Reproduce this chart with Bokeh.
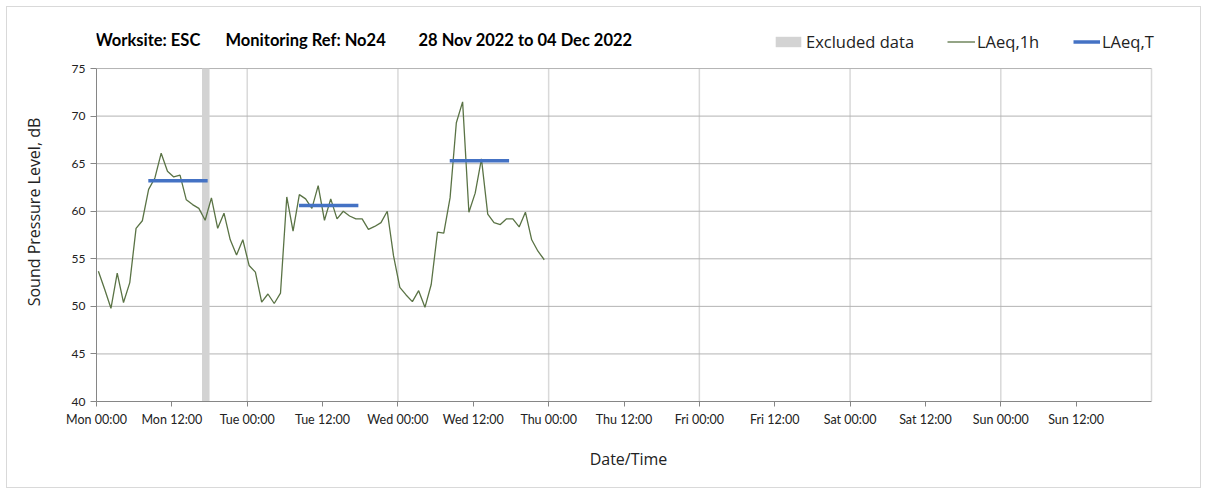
from bokeh.plotting import figure
from bokeh.models import Range1d, FixedTicker, Label, Legend, LegendItem
from bokeh.embed import file_html
from bokeh.resources import INLINE

# ---------------- data ----------------
laeq_1h = [53.7, 51.8, 49.8, 53.5, 50.4, 52.5, 58.2, 59.0, 62.3, 63.5, 66.1, 64.2,
           63.6, 63.8, 61.2, 60.7, 60.3, 59.05, 61.4, 58.2, 59.8, 57.0, 55.4, 57.0,
           54.3, 53.6, 50.45, 51.3, 50.3, 51.4, 61.5, 57.9, 61.75, 61.3, 60.3, 62.7,
           59.05, 61.3, 59.2, 60.0, 59.5, 59.2, 59.2, 58.1, 58.4, 58.8, 60.0, 55.3,
           52.0, 51.2, 50.5, 51.65, 49.9, 52.3, 57.8, 57.7, 61.4, 69.3, 71.5, 59.9,
           61.9, 65.5, 59.7, 58.8, 58.6, 59.2, 59.2, 58.35, 59.9, 57.0, 55.8, 54.9]
hours = [i + 0.3 for i in range(len(laeq_1h))]   # hours since Mon 00:00

laeqT_start = [8.25, 32.25, 56.25]
laeqT_end = [17.7, 41.7, 65.7]
laeqT_level = [63.2, 60.6, 65.3]

excluded_start = [16.8]
excluded_end = [18.0]

tick_hours = list(range(0, 168, 12))
tick_labels = ["Mon 00:00", "Mon 12:00", "Tue 00:00", "Tue 12:00", "Wed 00:00", "Wed 12:00",
               "Thu 00:00", "Thu 12:00", "Fri 00:00", "Fri 12:00", "Sat 00:00", "Sat 12:00",
               "Sun 00:00", "Sun 12:00"]
day_lines = [24, 48, 72, 96, 120, 144, 168]
y_ticks = [40, 45, 50, 55, 60, 65, 70, 75]
x_min, x_max = 0, 168

title_parts = ["Worksite: ESC", "Monitoring Ref: No24", "28 Nov 2022 to 04 Dec 2022"]

# ---------------- figure ----------------
# frame extends a little above 75 dB / beyond Sun 24:00 so the title and legend can live inside it
p = figure(width=1195, height=482, x_range=Range1d(0, 169.43), y_range=Range1d(40, 79.84),
           output_backend="svg", toolbar_location=None,
           min_border_left=89, min_border_right=42, min_border_top=15, min_border_bottom=88)
p.outline_line_color = None
p.background_fill_color = "white"
p.border_fill_color = "white"
p.styles = {"border": "1px solid #d9d9d9", "margin-left": "6px", "margin-top": "6px"}
p.xgrid.visible = False
p.ygrid.visible = False

# grid lines (bounded to the chart area)
n_v = len(day_lines)
p.segment(x0=day_lines, y0=[y_ticks[0]] * n_v, x1=day_lines, y1=[y_ticks[-1]] * n_v,
          line_color="#d9d9d9", line_width=1.5)
hy = y_ticks[1:]
p.segment(x0=[x_min] * len(hy), y0=hy, x1=[x_max] * len(hy), y1=hy,
          line_color="#b3b3b3", line_width=1)

excl = p.quad(left=excluded_start, right=excluded_end, bottom=[y_ticks[0]], top=[y_ticks[-1]],
              fill_color="#d3d3d3", line_color=None)
ln = p.line(hours, laeq_1h, line_color="#5a7345", line_width=1.3)
seg = p.segment(x0=laeqT_start, y0=laeqT_level, x1=laeqT_end, y1=laeqT_level,
                line_color="#4472c4", line_width=3.5)

# axes
xa = p.xaxis[0]
xa.bounds = (x_min, x_max)
xa.ticker = FixedTicker(ticks=tick_hours)
xa.major_label_overrides = {h: lab for h, lab in zip(tick_hours, tick_labels)}
xa.minor_tick_line_color = None
xa.major_tick_out = 5
xa.major_tick_in = 0
xa.major_label_standoff = 5
xa.axis_line_color = "#868686"
xa.major_tick_line_color = "#868686"
xa.major_label_text_font = "Lato"
xa.major_label_text_font_size = "12.5px"
xa.major_label_text_color = "#222222"
xa.axis_label = "Date/Time"
xa.axis_label_text_font = "Open Sans"
xa.axis_label_text_font_style = "normal"
xa.axis_label_text_font_size = "16px"
xa.axis_label_text_color = "#222222"
xa.axis_label_standoff = 18

ya = p.yaxis[0]
ya.bounds = (y_ticks[0], y_ticks[-1])
ya.ticker = FixedTicker(ticks=y_ticks)
ya.minor_tick_line_color = None
ya.major_tick_out = 6
ya.major_tick_in = 0
ya.major_label_standoff = 5
ya.axis_line_color = "#868686"
ya.major_tick_line_color = "#868686"
ya.major_label_text_font = "Lato"
ya.major_label_text_font_size = "12px"
ya.major_label_text_color = "#222222"
ya.axis_label = "Sound Pressure Level, dB"
ya.axis_label_text_font = "Open Sans"
ya.axis_label_text_font_style = "normal"
ya.axis_label_text_font_size = "16px"
ya.axis_label_text_color = "#222222"
ya.axis_label_standoff = 24

# title (screen units relative to frame bottom-left)
for txt, xs in zip(title_parts, [-1, 129, 322]):
    p.add_layout(Label(x=xs, y=362, x_units="screen", y_units="screen", text=txt,
                       text_font="Lato", text_font_style="bold", text_font_size="16.5px",
                       text_color="black", text_baseline="middle"))

# legends
def add_leg(label, rend, xrel, gw, standoff):
    leg = Legend(items=[LegendItem(label=label, renderers=[rend])], location=(xrel, 348),
                 orientation="horizontal", border_line_color=None, background_fill_alpha=0,
                 padding=0, margin=0, spacing=0, glyph_width=gw, glyph_height=13,
                 label_standoff=standoff, label_text_font="Open Sans", label_text_font_size="16.5px",
                 label_text_color="#222222", label_height=16)
    p.add_layout(leg)

add_leg("Excluded data", excl, 676, 32, 2)
add_leg("LAeq,1h", ln, 851, 28, 2)
add_leg("LAeq,T", seg, 977, 27, 2)

open("out.html", "w").write(file_html(p, INLINE))
